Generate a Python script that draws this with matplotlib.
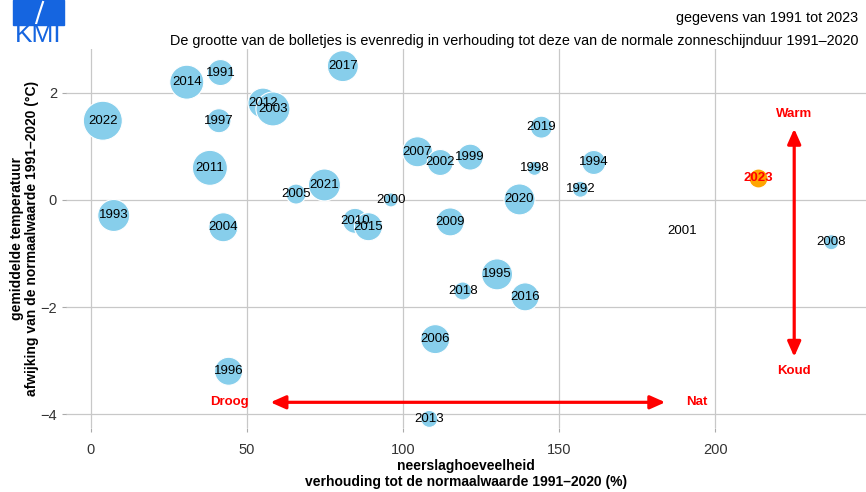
import matplotlib
matplotlib.use("Agg")
import matplotlib.pyplot as plt
from matplotlib.patches import Rectangle

# neerslag (% van normaal), temperatuurafwijking (°C), relatieve zonneschijn (bolgrootte)
jaren = [2022, 1993, 2014, 1991, 1997, 2011, 2004, 1996, 2012, 2003, 2017,
         2005, 2021, 2010, 2015, 2000, 2007, 2002, 1999, 2009, 2019, 1998,
         2020, 1994, 1992, 2001, 2008, 1995, 2018, 2016, 2006, 2013]
neerslag = [3.8, 7.3, 30.7, 41.5, 41.0, 38.1, 42.4, 44.1, 55.1, 58.3, 80.7,
            65.7, 74.8, 84.6, 88.9, 96.1, 104.6, 111.9, 121.5, 115.1, 144.3, 142.1,
            137.3, 161.1, 156.8, 189.4, 237.2, 130.1, 119.1, 139.1, 110.3, 108.4]
temperatuur = [1.48, -0.29, 2.20, 2.38, 1.48, 0.60, -0.51, -3.20, 1.81, 1.70, 2.50,
               0.11, 0.28, -0.39, -0.50, 0.00, 0.90, 0.70, 0.80, -0.41, 1.36, 0.59,
               0.01, 0.70, 0.20, -0.58, -0.79, -1.39, -1.70, -1.81, -2.60, -4.09]
zon = [19.5, 16, 17, 13, 12, 17.5, 14.5, 14, 15, 17, 15.5,
       10, 16, 12.5, 14, 7, 15, 13, 13, 14, 11, 7,
       15.5, 12, 8, 1, 7.5, 15.5, 9, 14, 14.5, 8.5]

jaar_2023 = 2023
neerslag_2023 = 213.7
temperatuur_2023 = 0.41
zon_2023 = 9.5

plt.rcParams["font.family"] = ["Liberation Sans", "DejaVu Sans"]

fig = plt.figure(figsize=(8.66, 4.92), dpi=100)
ax = fig.add_axes([66 / 866, 1 - 428 / 492, 800 / 866, 379 / 492])


def grootte(r):
    # straal in pixels -> scatter-oppervlakte in pt^2
    return (2 * r * 0.72) ** 2


ax.scatter(neerslag, temperatuur, s=[grootte(r) for r in zon], color="#87CEEB",
           edgecolor="white", linewidth=0.8, zorder=3)
for j, x, y in zip(jaren, neerslag, temperatuur):
    ax.text(x, y, str(j), ha="center", va="center", fontsize=9.5, zorder=4)

ax.scatter([neerslag_2023], [temperatuur_2023], s=grootte(zon_2023), color="#FFA500",
           edgecolor="white", linewidth=0.8, zorder=3)
ax.text(neerslag_2023, temperatuur_2023, str(jaar_2023), ha="center", va="center",
        fontsize=9.5, color="red", fontweight="bold", zorder=4)

# pijlen
pijl = dict(arrowstyle="<|-|>,head_length=0.9,head_width=0.4", color="red", lw=2.3,
            shrinkA=0, shrinkB=0)
ax.annotate("", xy=(57.5, -3.78), xytext=(184, -3.78), arrowprops=pijl, zorder=5)
ax.annotate("", xy=(225.3, 1.33), xytext=(225.3, -2.93), arrowprops=pijl, zorder=5)
rood = dict(color="red", fontweight="bold", fontsize=9.5, ha="center", va="center")
ax.text(44.5, -3.78, "Droog", **rood)
ax.text(194, -3.78, "Nat", **rood)
ax.text(225.3, 1.61, "Warm", **rood)
ax.text(225.3, -3.2, "Koud", **rood)

ax.set_xlim(-8, 248.3)
ax.set_ylim(-4.26, 2.82)
ax.set_xticks([0, 50, 100, 150, 200])
ax.set_yticks([-4, -2, 0, 2])
ax.set_yticklabels(["\u22124", "\u22122", "0", "2"])
ax.grid(True, color="#c8c8c8", linewidth=0.9)
ax.set_axisbelow(True)
for s in ax.spines.values():
    s.set_visible(False)
ax.tick_params(colors="#333333", labelsize=10.5, length=3, width=0.8)
ax.tick_params(axis="both", color="#aaaaaa")
ax.tick_params(axis="x", pad=8)

ax.set_xlabel("neerslaghoeveelheid\nverhouding tot de normaalwaarde 1991\u20132020 (%)",
              fontweight="bold", fontsize=10, linespacing=1.12, labelpad=1.5)
ax.set_ylabel("gemiddelde temperatuur\nafwijking van de normaalwaarde 1991\u20132020 (\u00b0C)",
              fontweight="bold", fontsize=10, linespacing=1.12, labelpad=1)

fig.text(858 / 866, 1 - 18 / 492, "gegevens van 1991 tot 2023", ha="right", va="center",
         fontsize=10.4)
fig.text(858 / 866, 1 - 41 / 492,
         "De grootte van de bolletjes is evenredig in verhouding tot deze van de normale zonneschijnduur 1991\u20132020",
         ha="right", va="center", fontsize=10.4)

# KMI-logo
blauw = "#1565e0"
fig.patches.append(Rectangle((13 / 866, 1 - 25 / 492), 51 / 866, 25 / 492,
                             transform=fig.transFigure, color=blauw))
fig.lines.append(plt.Line2D([36 / 866, 39 / 866, 43 / 866], [1 - 24 / 492, 1 - 14 / 492, 1 - 2 / 492],
                            transform=fig.transFigure, color="white", lw=1.5))
fig.text(38.5 / 866, 1 - 35 / 492, "KMI", color=blauw, fontsize=19, ha="center", va="center")

fig.savefig("out.png", dpi=100)
